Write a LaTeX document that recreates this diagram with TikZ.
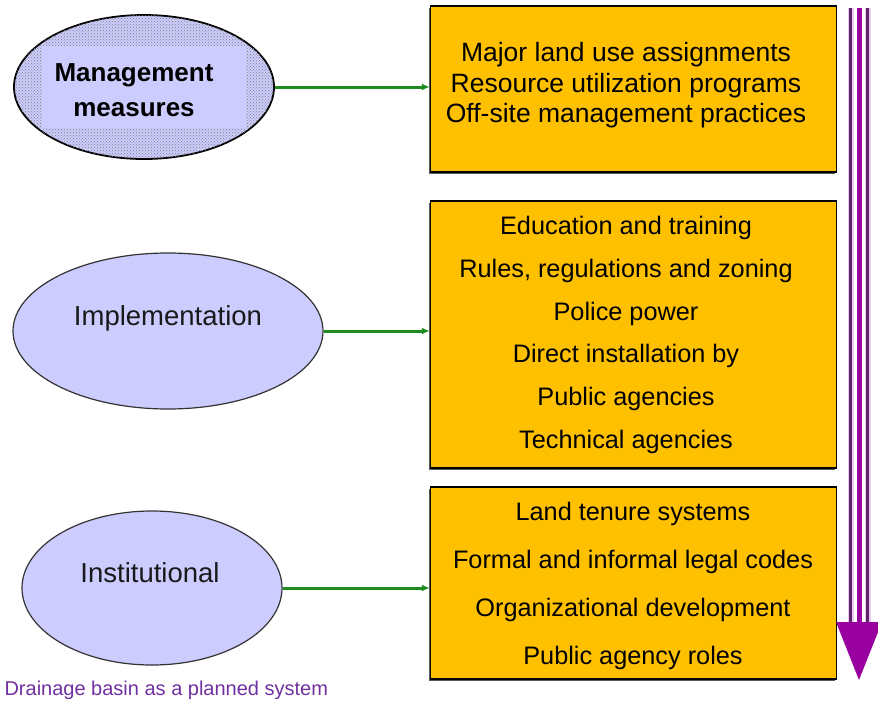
\documentclass[tikz,border=0pt]{standalone}
\usepackage{fontspec}
\setmainfont{Liberation Sans}
\usetikzlibrary{shapes.geometric,arrows.meta,patterns,shadows}
\definecolor{lavender}{RGB}{204,204,255}
\definecolor{boxorange}{RGB}{255,192,0}
\definecolor{arrowgreen}{RGB}{30,140,30}
\definecolor{flowpurple}{RGB}{153,0,160}
\definecolor{flowdark}{RGB}{95,35,105}
\definecolor{flowhalo}{RGB}{232,200,236}
\definecolor{captionpurple}{RGB}{112,48,160}

\begin{document}
\begin{tikzpicture}[x=1pt,y=-1pt,
        oval/.style={ellipse,draw=black!80,line width=1.2pt,fill=lavender,inner sep=0pt},
        ovaltext/.style={font=\fontsize{27.5}{30}\selectfont,text=black!90},
        itembox/.style={rectangle,draw=black,line width=1.4pt,fill=boxorange,inner sep=0pt,
            general shadow={fill=black!65,shadow xshift=-1.5pt,shadow yshift=-2pt}},
        items/.style 2 args={align=center,font=\fontsize{#1}{#2}\selectfont},
        flow/.style={draw=arrowgreen,line width=3pt,-{Latex[length=8pt,width=7pt]}}]
    \useasboundingbox (0,0) rectangle (878,704);

    % measures, implementation, institutional
    \node[oval,draw=black,line width=1.8pt,minimum width=260,minimum height=144,
        postaction={pattern=crosshatch dots,pattern color=black!50}] (mgmt) at (144,87) {};
    \fill[lavender] (42,46) rectangle (246,128);
    \node[font=\fontsize{26}{35}\selectfont\bfseries,align=center] (mgmttext) at (134,90) {Management\\measures};

    \node[oval,minimum width=310,minimum height=156] (impl) at (168,331) {};
    \node[ovaltext] (impltext) at (168,318) {Implementation};

    \node[oval,minimum width=260,minimum height=154] (inst) at (152,588) {};
    \node[ovaltext] (insttext) at (150,573) {Institutional};

    % boxes
    \node[itembox,minimum width=406,minimum height=166] (box1) at (633.5,89) {};
    \node[items={26.5}{30.5}] (box1text) at (626,85.5) {Major land use assignments\\Resource utilization programs\\Off-site management practices};

    \node[itembox,minimum width=406,minimum height=267] (box2) at (633.5,334.5) {};
    \node[items={25.3}{42.8}] (box2text) at (626,335) {Education and training\\Rules, regulations and zoning\\Police power\\Direct installation by\\Public agencies\\Technical agencies};

    \node[itembox,minimum width=406,minimum height=192] (box3) at (633.5,583) {};
    \node[items={25.3}{48}] (box3text) at (633,586) {Land tenure systems\\Formal and informal legal codes\\Organizational development\\Public agency roles};

    \draw[flow] (mgmt.east) -- (mgmt.east -| box1.west);
    \draw[flow] (impl.east) -- (impl.east -| box2.west);
    \draw[flow] (inst.east) -- (inst.east -| box3.west);

    % big arrow on the right
    \coordinate (flowtop) at (859,8);
    \coordinate (flowbot) at (859,622);
    \coordinate (flowtip) at (859,680);
    \foreach \dx in {-8.5,8.5}{
        \draw[flowhalo,line width=6pt] ([xshift=\dx pt]flowtop) -- ([xshift=\dx pt]flowbot);
        \draw[flowdark,line width=3.2pt] ([xshift=\dx pt]flowtop) -- ([xshift=\dx pt]flowbot);
    }
    \draw[flowpurple,line width=5pt] (flowtop) -- (flowbot);
    \fill[flowpurple] ([xshift=-23pt]flowbot) -- ([xshift=23pt]flowbot) -- (flowtip) -- cycle;

    \node[anchor=west,font=\fontsize{20}{22}\selectfont,text=captionpurple] (caption) at (1,690) {Drainage basin as a planned system};
\end{tikzpicture}
\end{document}
